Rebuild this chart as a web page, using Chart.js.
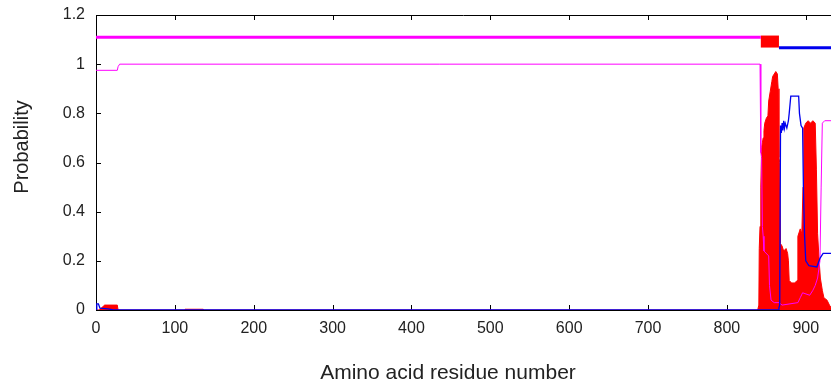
<!DOCTYPE html>
<html>
<head>
<meta charset="utf-8">
<script src="https://cdn.jsdelivr.net/npm/chart.js@4"></script>
<style>
  body { margin: 0; background: #fff; }
  canvas { display: block; }
</style>
</head>
<body>
<canvas id="chart" width="831" height="386"></canvas>
<script>
// posterior probabilities, residue position -> probability
const tmPos = [0, 4, 11, 27, 28, 112, 113, 136, 137, 839, 840.5, 841, 842, 843, 844, 845, 846, 847, 848, 850, 852, 853, 855, 857, 858, 860, 862, 864, 865, 866, 867, 868, 870, 872, 875, 877, 878, 879, 882, 886, 889, 890, 893, 895, 896.5, 897.5, 900, 903, 906, 909, 912, 913.5, 915, 917, 918.5, 921, 923, 927, 930, 932];
const tmProb = [0, 0, 0.02, 0.02, 0, 0, 0.003, 0.003, 0, 0, 0.02, 0.25, 0.34, 0.5, 0.66, 0.68, 0.7, 0.73, 0.76, 0.78, 0.79, 0.85, 0.89, 0.93, 0.95, 0.96, 0.97, 0.96, 0.9, 0.62, 0.6, 0.27, 0.26, 0.24, 0.25, 0.23, 0.2, 0.12, 0.11, 0.11, 0.12, 0.3, 0.33, 0.31, 0.5, 0.74, 0.76, 0.77, 0.76, 0.77, 0.76, 0.57, 0.31, 0.2, 0.13, 0.08, 0.05, 0.04, 0.02, 0.01];

const inPos = [0, 1, 3, 5, 15, 22, 865, 866, 867, 868, 869, 870, 871, 872, 873, 874, 876, 878, 879, 881, 891, 892, 894, 896, 897, 898.5, 900, 904, 914, 918, 922, 932];
const inProb = [0, 0.025, 0.025, 0.008, 0.005, 0, 0, 0.01, 0.02, 0.75, 0.72, 0.76, 0.73, 0.77, 0.74, 0.76, 0.74, 0.77, 0.8, 0.87, 0.87, 0.8, 0.75, 0.74, 0.5, 0.3, 0.2, 0.18, 0.175, 0.21, 0.23, 0.23];

const outPos = [0, 27, 28, 30, 842, 843, 844, 845, 846, 847, 853, 854, 856, 860, 866, 870, 880, 890, 893, 896, 905, 909, 912, 915, 918, 919.5, 921, 924, 932];
const outProb = [0.975, 0.975, 0.99, 1, 1, 0.64, 0.62, 0.34, 0.3, 0.24, 0.22, 0.1, 0.04, 0.03, 0.03, 0.02, 0.025, 0.03, 0.05, 0.07, 0.06, 0.08, 0.1, 0.13, 0.2, 0.5, 0.76, 0.77, 0.77];

// predicted topology bars along the top
const outsideTopoPos = [0, 843];
const tmTopoPos = [843, 866];
const insideTopoPos = [866, 932];
const outsideLevel = 1.11;
const tmLevel = 1.092;
const insideLevel = 1.067;

const xTicks = [0, 100, 200, 300, 400, 500, 600, 700, 800, 900];
const xTitle = 'Amino acid residue number';
const yTitle = 'Probability';

const FONT = '"Liberation Sans", Arial, sans-serif';

function pts(xs, ys) {
    return xs.map((x, i) => ({ x: x, y: ys[i] }));
}
function flat(xs, level) {
    return xs.map(x => ({ x: x, y: level }));
}

// gnuplot style frame: top border, inward ticks, axis titles
const framePlugin = {
    id: 'frame',
    beforeDatasetsDraw(chart) {
        const { ctx, chartArea: a, scales: { x, y } } = chart;
        ctx.save();
        ctx.strokeStyle = '#000';
        ctx.lineWidth = 1;
        ctx.beginPath();
        ctx.moveTo(a.left, a.top + 0.5);
        ctx.lineTo(a.right, a.top + 0.5);
        x.ticks.forEach(t => {
            const px = Math.round(x.getPixelForValue(t.value)) + 0.5;
            ctx.moveTo(px, a.bottom);
            ctx.lineTo(px, a.bottom - 5);
            ctx.moveTo(px, a.top);
            ctx.lineTo(px, a.top + 5);
        });
        y.ticks.forEach(t => {
            const py = Math.round(y.getPixelForValue(t.value)) + 0.5;
            ctx.moveTo(a.left, py);
            ctx.lineTo(a.left + 5, py);
        });
        ctx.stroke();
        ctx.restore();
    },
    afterDraw(chart) {
        const ctx = chart.ctx;
        ctx.save();
        ctx.fillStyle = '#222';
        ctx.textAlign = 'center';
        ctx.textBaseline = 'middle';
        ctx.font = '21px ' + FONT;
        ctx.fillText(xTitle, 448, 373);
        ctx.translate(22, 147);
        ctx.rotate(-Math.PI / 2);
        ctx.font = '20px ' + FONT;
        ctx.fillText(yTitle, 0, 0);
        ctx.restore();
    }
};

const lineDefaults = { pointRadius: 0, tension: 0, fill: false };

new Chart(document.getElementById('chart'), {
    type: 'line',
    data: {
        datasets: [
            { ...lineDefaults, data: flat(outsideTopoPos, outsideLevel), borderColor: '#ff00ff', borderWidth: 3 },
            { ...lineDefaults, data: flat(tmTopoPos, tmLevel), borderColor: '#ff0000', borderWidth: 12, borderCapStyle: 'butt' },
            { ...lineDefaults, data: flat(insideTopoPos, insideLevel), borderColor: '#0000ee', borderWidth: 3 },
            { ...lineDefaults, data: pts(inPos, inProb), borderColor: '#0000ee', borderWidth: 1.3 },
            { ...lineDefaults, data: pts(outPos, outProb), borderColor: '#ff00ff', borderWidth: 1 },
            { ...lineDefaults, data: pts(tmPos, tmProb), borderColor: '#ff0000', backgroundColor: '#ff0000', borderWidth: 1, fill: 'origin' }
        ]
    },
    options: {
        responsive: false,
        animation: false,
        layout: { padding: { top: 15, right: 0, bottom: 0, left: 0 } },
        plugins: { legend: { display: false }, tooltip: { enabled: false } },
        scales: {
            x: {
                type: 'linear',
                min: 0,
                max: 932,
                afterBuildTicks: s => { s.ticks = xTicks.map(v => ({ value: v })); },
                afterFit: s => { s.height = 76; },
                ticks: { font: { family: FONT, size: 16 }, color: '#222', padding: 9, maxRotation: 0 },
                grid: { display: true, drawOnChartArea: false, drawTicks: false },
                border: { display: true, color: '#000', width: 1 }
            },
            y: {
                min: 0,
                max: 1.2,
                afterFit: s => { s.width = 96; s.paddingTop = 0; s.paddingBottom = 0; },
                ticks: {
                    stepSize: 0.2,
                    font: { family: FONT, size: 16 },
                    color: '#222',
                    padding: 11,
                    callback: v => String(Math.round(v * 10) / 10)
                },
                grid: { display: true, drawOnChartArea: false, drawTicks: false },
                border: { display: true, color: '#000', width: 1 }
            }
        }
    },
    plugins: [framePlugin]
});
</script>
</body>
</html>
